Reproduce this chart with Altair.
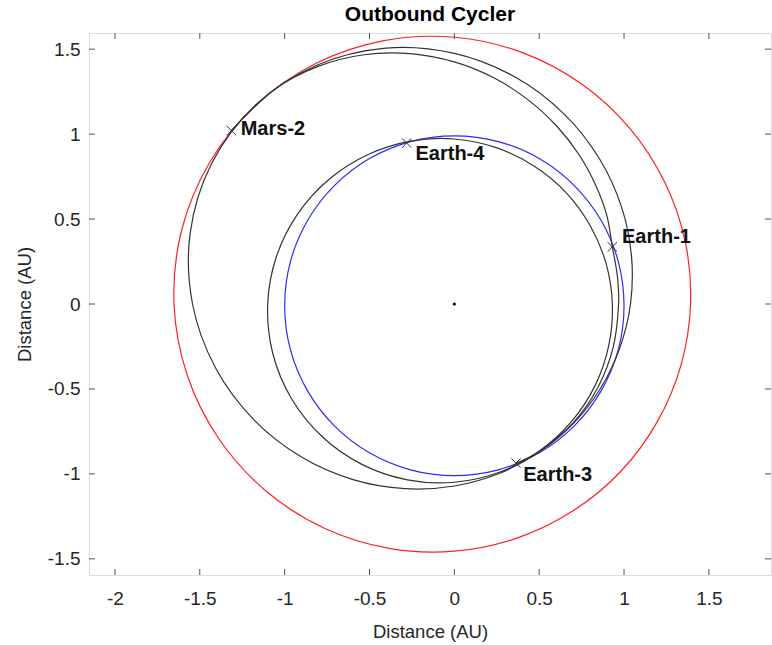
import altair as alt
import pandas as pd

# ---- data (AU) ----
earth_x = [1.0, 0.966, 0.866, 0.707, 0.5, 0.259, 0.0, -0.259, -0.5, -0.707, -0.866, -0.966,
           -1.0, -0.966, -0.866, -0.707, -0.5, -0.259, 0.0, 0.259, 0.5, 0.707, 0.866, 0.966]
earth_y = [-0.01, 0.249, 0.49, 0.697, 0.856, 0.956, 0.99, 0.956, 0.856, 0.697, 0.49, 0.249,
           -0.01, -0.269, -0.51, -0.717, -0.876, -0.976, -1.01, -0.976, -0.876, -0.717, -0.51, -0.269]

mars_x = [1.392, 1.361, 1.240, 1.034, 0.748, 0.397, 0.0, -0.415, -0.817, -1.170, -1.442, -1.608,
          -1.652, -1.573, -1.384, -1.105, -0.763, -0.385, 0.0, 0.369, 0.702, 0.983, 1.197, 1.336]
mars_y = [0.0, 0.365, 0.716, 1.034, 1.296, 1.481, 1.570, 1.550, 1.415, 1.170, 0.833, 0.431,
          0.0, -0.422, -0.799, -1.105, -1.321, -1.438, -1.455, -1.378, -1.216, -0.983, -0.691, -0.358]

outer_x = [1.038, 1.044, 0.986, 0.855, 0.646, 0.358, 0.0, -0.403, -0.811, -1.171, -1.431, -1.557,
           -1.543, -1.407, -1.181, -0.901, -0.597, -0.291, 0.0, 0.267, 0.502, 0.702, 0.861, 0.974]
outer_y = [0.0, 0.280, 0.569, 0.855, 1.119, 1.336, 1.475, 1.506, 1.405, 1.171, 0.826, 0.417,
           0.0, -0.377, -0.682, -0.901, -1.034, -1.087, -1.071, -0.996, -0.870, -0.702, -0.497, -0.261]

inner_x = [0.931, 0.894, 0.800, 0.657, 0.469, 0.247, 0.0, -0.257, -0.508, -0.736, -0.922, -1.048,
           -1.100, -1.071, -0.961, -0.780, -0.545, -0.277, 0.0, 0.265, 0.500, 0.691, 0.830, 0.910]
inner_y = [0.0, 0.239, 0.462, 0.657, 0.812, 0.920, 0.971, 0.959, 0.880, 0.736, 0.532, 0.281,
           0.0, -0.287, -0.555, -0.780, -0.944, -1.035, -1.049, -0.990, -0.866, -0.691, -0.479, -0.244]

# leg: Earth-3 -> (right side) -> Earth-1 -> (top) -> Mars-2
leg_x = [0.363, 0.500, 0.700, 0.847, 0.937, 0.968, 0.960, 0.931, 0.899, 0.833, 0.736, 0.604,
         0.437, 0.235, 0.0, -0.260, -0.534, -0.807, -1.060, -1.314]
leg_y = [-0.936, -0.866, -0.700, -0.489, -0.251, 0.0, 0.169, 0.336, 0.519, 0.699, 0.877, 1.046,
         1.200, 1.330, 1.425, 1.474, 1.467, 1.397, 1.263, 1.021]

enc_names = ["Earth-1", "Mars-2", "Earth-3", "Earth-4"]
enc_x = [0.931, -1.314, 0.363, -0.281]
enc_y = [0.336, 1.021, -0.936, 0.947]
lab_x = [0.988, -1.259, 0.406, -0.229]
lab_y = [0.394, 1.031, -1.005, 0.880]

x_ticks = [-2, -1.5, -1, -0.5, 0, 0.5, 1, 1.5]
y_ticks = [-1.5, -1, -0.5, 0, 0.5, 1, 1.5]

# ---- tables ----
rows = []
for name, xs_, ys_ in [("Earth", earth_x, earth_y), ("Mars", mars_x, mars_y),
                       ("Outer", outer_x, outer_y), ("Inner", inner_x, inner_y)]:
    for i, (a, b) in enumerate(zip(xs_, ys_)):
        rows.append({"curve": name, "i": i, "x": a, "y": b})
closed_df = pd.DataFrame(rows)
leg_df = pd.DataFrame({"i": list(range(len(leg_x))), "x": leg_x, "y": leg_y, "curve": "Leg"})
enc_df = pd.DataFrame({"name": enc_names, "x": enc_x, "y": enc_y, "lx": lab_x, "ly": lab_y})
sun_df = pd.DataFrame({"x": [0.0], "y": [0.0]})
xt_df = pd.DataFrame({"v": x_ticks})
yt_df = pd.DataFrame({"v": y_ticks})

W, H = 682, 542
FONT = "Liberation Sans, Arial, Helvetica, sans-serif"
xs = alt.Scale(domain=[-2.153, 1.866], nice=False, zero=False)
ys = alt.Scale(domain=[-1.595, 1.595], nice=False, zero=False)

xaxis = alt.Axis(values=x_ticks, labelExpr="'' + datum.value", ticks=False, domain=False, grid=False,
                 title="Distance (AU)", labelFontSize=19, labelFont=FONT, labelColor="#262626",
                 labelPadding=14, titleFontSize=18.5, titleFont=FONT, titleFontWeight="normal",
                 titleColor="#262626", titleX=W / 2, titleY=56, titleBaseline="middle")
yaxis = alt.Axis(values=y_ticks, labelExpr="'' + datum.value", ticks=False, domain=False, grid=False,
                 title="Distance (AU)", labelFontSize=19, labelFont=FONT, labelColor="#262626",
                 labelPadding=9, titleFontSize=18.5, titleFont=FONT, titleFontWeight="normal",
                 titleColor="#262626", titleX=-65, titleY=H / 2, titleBaseline="middle",
                 titleAlign="center")

color_scale = alt.Scale(domain=["Earth", "Mars", "Outer", "Inner", "Leg"],
                        range=["#2a2aff", "#ff2020", "#333333", "#333333", "#333333"])

closed = alt.Chart(closed_df).mark_line(interpolate="cardinal-closed", strokeWidth=1.2).encode(
    x=alt.X("x:Q", scale=xs, axis=xaxis),
    y=alt.Y("y:Q", scale=ys, axis=yaxis),
    color=alt.Color("curve:N", scale=color_scale, legend=None),
    detail="curve:N",
    order="i:Q",
)
leg = alt.Chart(leg_df).mark_line(interpolate="cardinal", strokeWidth=1.2, color="#333333").encode(
    x=alt.X("x:Q", scale=xs), y=alt.Y("y:Q", scale=ys), order="i:Q")

marks = alt.Chart(enc_df).mark_point(shape="M-1,-1L1,1M-1,1L1,-1", filled=False, size=90,
                                     color="#333333", strokeWidth=1, opacity=1).encode(
    x=alt.X("x:Q", scale=xs), y=alt.Y("y:Q", scale=ys))
labels = alt.Chart(enc_df).mark_text(align="left", baseline="middle", fontSize=20, fontWeight="bold",
                                     font=FONT, color="#111111").encode(
    x=alt.X("lx:Q", scale=xs), y=alt.Y("ly:Q", scale=ys), text="name:N")
sun = alt.Chart(sun_df).mark_point(filled=True, size=10, color="black", opacity=1).encode(
    x=alt.X("x:Q", scale=xs), y=alt.Y("y:Q", scale=ys))

TK = 6
tick_col = "#555555"
xt_bot = alt.Chart(xt_df).mark_rule(color=tick_col, strokeWidth=1).encode(
    x=alt.X("v:Q", scale=xs), y=alt.value(H), y2=alt.value(H - TK))
xt_top = alt.Chart(xt_df).mark_rule(color=tick_col, strokeWidth=1).encode(
    x=alt.X("v:Q", scale=xs), y=alt.value(0), y2=alt.value(TK))
yt_l = alt.Chart(yt_df).mark_rule(color=tick_col, strokeWidth=1).encode(
    y=alt.Y("v:Q", scale=ys), x=alt.value(0), x2=alt.value(TK))
yt_r = alt.Chart(yt_df).mark_rule(color=tick_col, strokeWidth=1).encode(
    y=alt.Y("v:Q", scale=ys), x=alt.value(W), x2=alt.value(W - TK))

chart = alt.layer(closed, leg, marks, labels, sun, xt_bot, xt_top, yt_l, yt_r).properties(
    width=W, height=H,
    title=alt.TitleParams("Outbound Cycler", fontSize=21, fontWeight="bold", font=FONT,
                          color="#000000", offset=8, anchor="middle"),
    autosize=alt.AutoSizeParams(type="none"),
    padding={"left": 89, "top": 33, "right": 1, "bottom": 70},
).configure_view(stroke="#707070", strokeWidth=1.2).configure(background="white")

chart.save("out.html", embed_options={"renderer": "svg", "actions": False})
